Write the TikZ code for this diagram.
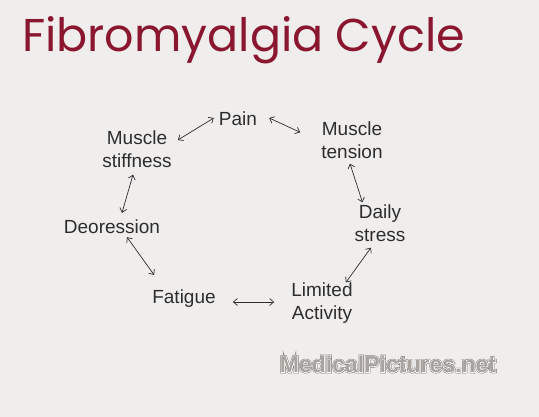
\documentclass[tikz,border=0pt]{standalone}
\usepackage{fontspec}
\setmainfont{Liberation Sans}
\newfontfamily\titlefont{Poppins}
\newfontfamily\stampouter[FakeBold=9]{Liberation Sans Bold}
\newfontfamily\stampinner[FakeBold=5]{Liberation Sans Bold}
\usetikzlibrary{arrows.meta}

\definecolor{bgcol}{RGB}{240,238,237}
\definecolor{titlecol}{RGB}{138,22,48}
\definecolor{inkcol}{RGB}{45,45,45}
\definecolor{markcol}{RGB}{168,163,159}

\tikzset{
	stage/.style={align=center, text=inkcol, font=\fontsize{19}{23}\selectfont, inner sep=1pt},
	link/.style={<->, draw=inkcol, line width=0.7pt, >={Straight Barb[length=4pt,width=7pt]}},
	stamp/.style={font=#1\fontsize{23}{25}\selectfont}
}

\begin{document}
\begin{tikzpicture}[x=1pt, y=-1pt]
		\fill [bgcol] (0, 0) rectangle (539, 417); % Bakgrund
		\useasboundingbox (0, 0) rectangle (539, 417);
		
		\node [anchor=base west, text=titlecol, inner sep=0pt, font=\titlefont\fontsize{46}{50}\selectfont] (title) at (22, 52) {Fibromyalgia Cycle}; % Rubriken
		
		\node [stage] (pain) at (238, 119) {Pain};
		\node [stage] (tension) at (352, 140) {Muscle\\tension};
		\node [stage] (stress) at (380, 223) {Daily\\stress};
		\node [stage] (limited) at (322, 303) {Limited\\Activity};
		\node [stage] (fatigue) at (184, 299) {Fatigue};
		\node [stage] (depr) at (112, 227) {Deoression};
		\node [stage] (stiff) at (137, 149) {Muscle\\stiffness};
		
		\draw [link] ([shift={(5,-9)}]stiff.east) -- ([shift={(-4,-1)}]pain.west); % Pilarna
		\draw [link] ([shift={(11,-1)}]pain.east) -- ([shift={(-20,12)}]tension.north west);
		\draw [link] ([shift={(-2,4)}]tension.south) -- ([shift={(9,-1)}]stress.north west);
		\draw [link] ([shift={(-9,5)}]stress.south) -- ([shift={(-8,1)}]limited.north east);
		\draw [link] ([shift={(-16,-1)}]limited.west) -- ([shift={(16,3)}]fatigue.east);
		\draw [link] ([shift={(3,-14)}]fatigue.north west) -- ([shift={(15,2)}]depr.south);
		\draw [link] ([shift={(10,-6)}]depr.north) -- ([shift={(-4,6)}]stiff.south);
		
		% Vattenstämpeln
		\node [stamp=\stampouter, text=markcol!70!black] at (388, 364) {MedicalPictures.net};
		\node [stamp=\stampinner, text=white] at (388, 364) {MedicalPictures.net};
		\node [stamp=\bfseries, text=markcol] (wmark) at (388, 364) {MedicalPictures.net};
	\end{tikzpicture}
\end{document}
